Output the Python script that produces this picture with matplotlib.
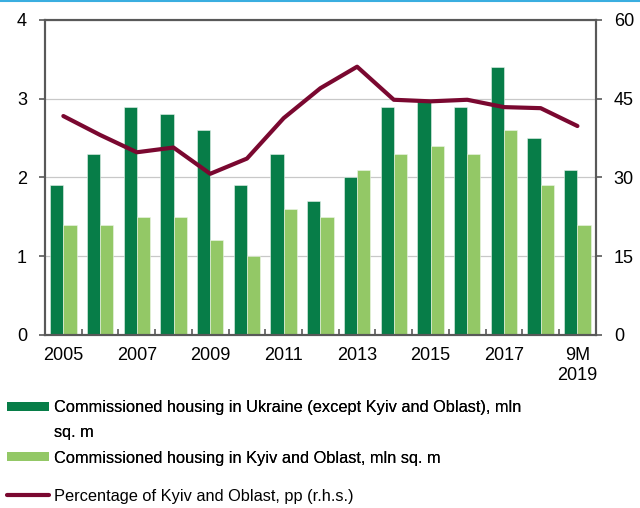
import matplotlib
matplotlib.use('Agg')
import matplotlib.pyplot as plt
from matplotlib.patches import Rectangle
from matplotlib.lines import Line2D
import numpy as np

plt.rcParams['font.family'] = ['Liberation Sans', 'DejaVu Sans']

years = ['2005', '2006', '2007', '2008', '2009', '2010', '2011', '2012',
         '2013', '2014', '2015', '2016', '2017', '2018', '9M\n2019']
ukraine_ex_kyiv = [1.9, 2.3, 2.9, 2.8, 2.6, 1.9, 2.3, 1.7, 2.0, 2.9, 3.0, 2.9, 3.4, 2.5, 2.1]
kyiv_oblast = [1.4, 1.4, 1.5, 1.5, 1.2, 1.0, 1.6, 1.5, 2.1, 2.3, 2.4, 2.3, 2.6, 1.9, 1.4]
kyiv_share = [41.7, 38.1, 34.8, 35.7, 30.7, 33.6, 41.3, 47.0, 51.1, 44.8, 44.5, 44.8, 43.4, 43.2, 39.8]

dark = '#077d48'
light = '#93c866'
wine = '#7a0830'
spine_col = '#595959'

fig = plt.figure(figsize=(6.4, 5.08), dpi=100)
ax = fig.add_axes([0.0703, 0.3406, 0.8606, 0.6201])
ax2 = ax.twinx()

x = np.arange(len(years))
w = 0.36
ax.bar(x - w / 2, ukraine_ex_kyiv, w, color=dark, edgecolor='#e8f2ec', linewidth=0.4, zorder=2)
ax.bar(x + w / 2, kyiv_oblast, w, color=light, edgecolor='#eef6e8', linewidth=0.4, zorder=2)
ax2.plot(x, kyiv_share, color=wine, linewidth=3.0, solid_capstyle='round', solid_joinstyle='round')

ax.set_xlim(-0.5, len(years) - 0.5)
ax.set_ylim(0, 4)
ax2.set_ylim(0, 60)
ax.set_yticks([0, 1, 2, 3, 4])
ax2.set_yticks([0, 15, 30, 45, 60])
ax.yaxis.grid(True, color='#c8c8c8', linewidth=0.9, zorder=0)
ax.set_axisbelow(True)

ax.set_xticks(x[::2])
ax.set_xticklabels([years[i] for i in range(0, len(years), 2)])
ax.set_xticks(np.arange(0.5, len(years) - 1, 1), minor=True)
ax.tick_params(axis='x', which='major', length=0, pad=9, labelsize=13)
ax.tick_params(axis='x', which='minor', direction='in', length=4, width=1.2, color=spine_col)
ax.tick_params(axis='y', length=4, width=1.2, color=spine_col, pad=9, labelsize=13)
ax2.tick_params(axis='y', length=4, width=1.2, color=spine_col, pad=9, labelsize=13)

for a in (ax, ax2):
    for s in a.spines.values():
        s.set_color(spine_col)
        s.set_linewidth(1.5)

# legend
h1 = Rectangle((0, 0), 1, 1, facecolor=dark, edgecolor='none')
h_blank = Rectangle((0, 0), 1, 1, facecolor='none', edgecolor='none')
h2 = Rectangle((0, 0), 1, 1, facecolor=light, edgecolor='none')
h3 = Line2D([], [], color=wine, linewidth=3.0, solid_capstyle='round')

leg1 = fig.legend([h1, h_blank, h2],
                  ['Commissioned housing in Ukraine (except Kyiv and Oblast), mln', 'sq. m',
                   'Commissioned housing in Kyiv and Oblast, mln sq. m'],
                  loc='upper left', bbox_to_anchor=(0.011, 0.212), frameon=False,
                  fontsize=11.8, handlelength=2.55, handleheight=0.45, handletextpad=0.3,
                  labelspacing=0.62, borderpad=0, borderaxespad=0)
fig.add_artist(leg1)
fig.legend([h3], ['Percentage of Kyiv and Oblast, pp (r.h.s.)'],
           loc='upper left', bbox_to_anchor=(0.011, 0.037), frameon=False,
           fontsize=11.8, handlelength=2.55, handletextpad=0.3, borderpad=0, borderaxespad=0)

# thin blue rule at the top
fig.add_artist(Line2D([0, 1], [0.999, 0.999], transform=fig.transFigure, color='#3aaee0', linewidth=1.5))

fig.savefig('out.png', dpi=100)
